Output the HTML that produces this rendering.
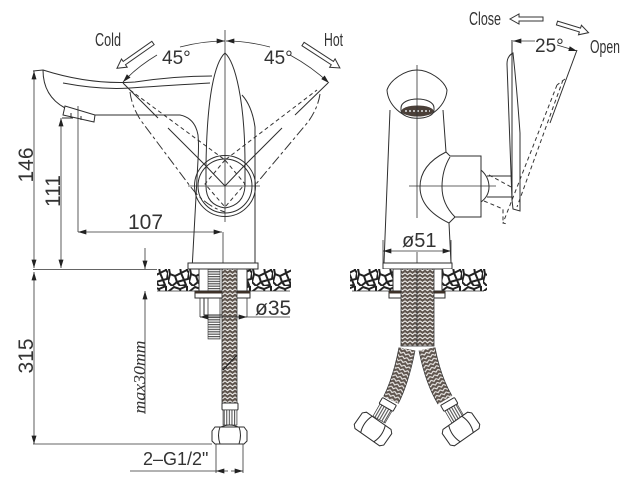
<!DOCTYPE html>
<html><head><meta charset="utf-8"><style>
html,body{margin:0;padding:0;background:#fff;width:635px;height:486px;overflow:hidden}
svg{display:block}
text{font-family:"Liberation Sans",sans-serif;fill:#333}
.l{fill:none;stroke:#2e2e2e;stroke-width:1}
.t{fill:none;stroke:#333;stroke-width:.8}
.d{fill:none;stroke:#333;stroke-width:1;stroke-dasharray:4 3}
.ld{fill:none;stroke:#333;stroke-width:1;stroke-dasharray:10 3 3 3}
.w{fill:#fff;stroke:#2e2e2e;stroke-width:1}
.a{fill:#fff;stroke:#333;stroke-width:1}
</style></head><body>
<svg width="635" height="486" viewBox="0 0 635 486" xmlns="http://www.w3.org/2000/svg">
<defs>
<marker id="m" viewBox="0 0 10 6" refX="10" refY="3" markerWidth="9" markerHeight="5" markerUnits="userSpaceOnUse" orient="auto-start-reverse"><path d="M0 0L10 3L0 6Z" fill="#222"/></marker>
<pattern id="braid" width="5" height="4" patternUnits="userSpaceOnUse"><rect width="5" height="4" fill="#5f554e"/><path d="M0 .8L2.500 2.800L5 .8" fill="none" stroke="#f2f0ee" stroke-width="1.100"/></pattern>
<pattern id="braidL" width="5" height="4" patternUnits="userSpaceOnUse" patternTransform="rotate(20)"><rect width="5" height="4" fill="#5f554e"/><path d="M0 .8L2.500 2.800L5 .8" fill="none" stroke="#f2f0ee" stroke-width="1.100"/></pattern>
<pattern id="braidR" width="5" height="4" patternUnits="userSpaceOnUse" patternTransform="rotate(-20)"><rect width="5" height="4" fill="#5f554e"/><path d="M0 .8L2.500 2.800L5 .8" fill="none" stroke="#f2f0ee" stroke-width="1.100"/></pattern>
<pattern id="stone" width="21" height="22" patternUnits="userSpaceOnUse"><rect width="21" height="22" fill="#fff"/><path d="M1 5L6 1L12 3L13 9L7 12L2 10ZM13 9L19 6L21 9L20 15L16 16ZM2 10L7 12L9 18L4 22L0 18ZM9 18L16 16L18 21L12 22Z" fill="#fff" stroke="#222" stroke-width="2"/><path d="M12 3L19 0M19 6L19 0" stroke="#222" stroke-width="2"/></pattern>
<pattern id="hh" width="3" height="2.4" patternUnits="userSpaceOnUse"><rect width="3" height="2.4" fill="#fff"/><rect width="3" height="1.200" fill="#555"/></pattern>
<pattern id="vv" width="2.6" height="3" patternUnits="userSpaceOnUse"><rect width="2.6" height="3" fill="#fff"/><rect width="1.100" height="3" fill="#555"/></pattern>
</defs>

<!-- labels top -->
<text x="95" y="46" font-size="18" textLength="26" lengthAdjust="spacingAndGlyphs">Cold</text>
<text x="324" y="46" font-size="18" textLength="19" lengthAdjust="spacingAndGlyphs">Hot</text>
<text x="469" y="25" font-size="18" textLength="32" lengthAdjust="spacingAndGlyphs">Close</text>
<text x="590" y="53" font-size="18" textLength="30" lengthAdjust="spacingAndGlyphs">Open</text>
<polygon class="a" transform="translate(153,43) rotate(145)" points="0,-2 35,-2 35,-5 44,0 35,5 35,2 0,2"/>
<polygon class="a" transform="translate(303,44) rotate(33)" points="0,-2 35,-2 35,-5 44,0 35,5 35,2 0,2"/>
<polygon class="a" transform="translate(543,19) rotate(180)" points="0,-2 24,-2 24,-5 33,0 24,5 24,2 0,2"/>
<polygon class="a" transform="translate(557,23) rotate(17)" points="0,-2 24,-2 24,-5 33,0 24,5 24,2 0,2"/>

<!-- 45 arcs -->
<path class="t" d="M180 47Q203 41 225 41" marker-end="url(#m)"/>
<path class="t" d="M270 47Q247 41 226 41" marker-end="url(#m)"/>
<path class="t" d="M157 55Q137 67 123 82" marker-end="url(#m)"/>
<path class="t" d="M290 55Q312 67 329 83" marker-end="url(#m)"/>
<text x="162" y="64" font-size="19">45°</text>
<text x="264" y="64" font-size="19">45°</text>

<!-- left faucet dashed -->
<path class="d" d="M130 90L225 160L317 90"/>
<path class="ld" d="M130 92Q132 108 142 122L190 186Q205 206 225 212"/>
<path class="ld" d="M320 94Q318 108 308 122L256 184"/>
<path class="d" d="M225 160L205 184L225 207L245 184Z"/>

<!-- left faucet body -->
<path class="l" d="M192 270L198 160Q199 145 198 135Q195 118 180 115L93 115"/>
<path class="l" d="M255 270L255 127Q252 106 242 95"/>
<path class="l" d="M33 71L43 70Q90 85 135 82Q175 76 212 76"/>
<path class="l" d="M63 83Q100 90 130 88Q175 85 210 83"/>
<path class="l" d="M43 70Q43 96 65 108"/>
<path class="w" d="M65 106L63 115L94 122L95 115Z"/>
<path class="l" d="M71 113L71 118M81 116L81 120M62 118L73 118"/>
<path class="l" d="M225 53C215 62 207 95 206 165L206 186Q206 205 225 208Q244 205 245 186L245 165C245 100 235 62 225 53Z"/>
<circle class="l" cx="225" cy="186" r="30.500"/>
<circle class="l" cx="225" cy="186" r="27"/>
<path class="l" d="M205 165L225 186L245 165M205 165L168 128M158 118L123 83M245 165L282 128M295 115L328 83"/>
<path class="t" d="M225 30L225 222M223 232L223 270M188 186L260 186"/>

<!-- dims left -->
<path class="t" d="M34 71L34 268" marker-start="url(#m)" marker-end="url(#m)"/>
<path class="t" d="M34 272L34 444" marker-start="url(#m)" marker-end="url(#m)"/>
<path class="t" d="M61 118L61 268" marker-start="url(#m)" marker-end="url(#m)"/>
<path class="t" d="M78 106L78 232"/>
<path class="t" d="M78 232L222 232" marker-start="url(#m)" marker-end="url(#m)"/>
<path class="t" d="M33 269.500L157 269.500M33 444L212 444"/>
<text transform="translate(33,165) rotate(-90)" font-size="21" text-anchor="middle">146</text>
<text transform="translate(33,356) rotate(-90)" font-size="21" text-anchor="middle">315</text>
<text transform="translate(60,191) rotate(-90)" font-size="21" text-anchor="middle">111</text>
<text x="128" y="229" font-size="21">107</text>
<path class="t" d="M145 248L145 269" marker-end="url(#m)"/>
<path class="t" d="M145 312L145 291" marker-end="url(#m)"/>
<path class="t" d="M145 312L145 414"/>
<text transform="translate(145,377) rotate(-90)" font-size="17" font-style="italic" text-anchor="middle" style="font-family:'Liberation Serif',serif" textLength="73" lengthAdjust="spacingAndGlyphs">max30mm</text>

<!-- left base -->
<rect x="157" y="269" width="43" height="22" fill="url(#stone)"/>
<rect x="247" y="269" width="44" height="22" fill="url(#stone)"/>
<path class="t" d="M157 291L199 291M247 291L290 291"/>
<rect class="w" x="188" y="263" width="70" height="6"/>
<rect x="199" y="269" width="48" height="22" fill="#fff" stroke="#333"/>
<rect x="208" y="269" width="12" height="22" fill="url(#hh)" stroke="#333" stroke-width=".6"/>
<rect x="195" y="291" width="55" height="7" class="w"/>
<rect x="195" y="291" width="55" height="2.500" fill="#3d3128"/>
<rect class="w" x="204" y="298" width="18" height="17"/>
<path class="t" d="M208 298L208 315M220 298L220 315"/>
<rect x="208" y="315" width="12" height="24" fill="url(#hh)" stroke="#333" stroke-width=".6"/>
<rect x="222" y="269" width="15" height="134" fill="url(#braid)" stroke="#333" stroke-width=".8"/>
<path d="M223 370L237 355" stroke="#222" stroke-width="1.200"/>
<rect class="w" x="222" y="403" width="16" height="7" rx="1"/>
<rect x="223" y="410" width="14" height="15" fill="url(#vv)" stroke="#333" stroke-width=".6"/>
<path class="w" d="M215 427L244 427L247 431L247 441L244 444L215 444L212 441L212 431Z"/>
<path class="l" d="M220 427Q217 435 220 444M239 427Q242 435 239 444M221 427Q230 423 238 427"/>
<path class="t" d="M216 444L216 473M243 444L243 473"/>
<path class="t" d="M130 471L216 471"/>
<path class="t" d="M216 471L228 471" marker-start="url(#m)"/>
<path class="t" d="M243 471L231 471" marker-start="url(#m)"/>
<text x="143" y="465" font-size="18">2–G1/2"</text>
<path class="t" d="M200 298L200 317M247 298L247 317"/>
<path class="t" d="M200 317L290 317"/>
<path class="t" d="M200 317L222 317" marker-start="url(#m)"/>
<path class="t" d="M247 317L235 317" marker-start="url(#m)"/>
<text x="255" y="315" font-size="21">ø35</text>

<!-- right faucet -->
<path class="l" d="M390 110L384 263M443 110L446 152M449 223L451 263"/>
<path class="w" d="M417 70C405 70 390 80 387 90C388 105 402 118 417 118C432 118 446 105 447 90C444 80 429 70 417 70Z"/>
<path class="w" d="M401 108C401 96 434 96 434 108L434 110C434 121 401 121 401 110Z"/>
<ellipse cx="417.500" cy="111" rx="16" ry="5.500" fill="#4a3f38"/>
<path d="M405 111L430 111" stroke="#bbb" stroke-width="2" stroke-dasharray="2 2"/>
<path class="l" d="M446 152Q420 165 420 187Q420 209 449 223"/>
<path class="l" d="M450 157Q442 170 442 187Q442 204 455 217"/>
<path class="l" d="M446 152L450 156L481 156L481 217L455 217L449 223"/>
<path class="l" d="M481 170Q489 177 489 187Q489 196 481 202"/>
<path class="l" d="M487 176L512 176M487 197L512 197"/>
<path class="t" d="M417 65L417 218M417 252L417 269M409 186L496 186"/>
<path class="l" d="M512 40L512 200"/>
<path class="l" d="M513 53Q507 56 507 64L512 200L513 209L520 211L520 133Q517 90 513 53Z"/>
<path class="l" d="M577 50L550 123"/>
<path class="d" d="M563 80L517 207M557 85L503 223L507 224M565 79L557 85"/>
<path class="d" d="M489 175L513 188M484 201L503 209L503 223"/>
<path class="t" d="M535 41L513 41" marker-end="url(#m)"/>
<path class="t" d="M557 45L577 51" marker-end="url(#m)"/>
<text x="535" y="52" font-size="19">25°</text>

<!-- right base -->
<text x="402" y="247" font-size="20">ø51</text>
<path class="t" d="M383 240L383 266M451 240L451 266"/>
<path class="t" d="M383 251L451 251" marker-start="url(#m)" marker-end="url(#m)"/>
<rect class="w" x="383" y="263" width="69" height="6"/>
<rect x="350" y="269" width="43" height="22" fill="url(#stone)"/>
<rect x="442" y="269" width="45" height="22" fill="url(#stone)"/>
<path class="t" d="M352 291L393 291M442 291L484 291"/>
<rect x="393" y="269" width="49" height="22" fill="#fff" stroke="#333"/>
<rect class="w" x="389" y="291" width="56" height="7"/>
<rect x="389" y="291" width="56" height="2.500" fill="#3d3128"/>
<rect x="401" y="269" width="16" height="77" fill="url(#braid)" stroke="#333" stroke-width=".8"/>
<rect x="417" y="269" width="17" height="77" fill="url(#braid)" stroke="#333" stroke-width=".8"/>
<path d="M407 349Q401 380 391 400" fill="none" stroke="#333" stroke-width="17"/>
<path d="M407 349Q401 380 391 400" fill="none" stroke="url(#braidL)" stroke-width="15.500"/>
<path d="M427 349Q433 380 445 400" fill="none" stroke="#333" stroke-width="17"/>
<path d="M427 349Q433 380 445 400" fill="none" stroke="url(#braidR)" stroke-width="15.500"/>
<g transform="translate(388,404) rotate(30)">
<rect x="-7" y="4" width="14" height="14" fill="url(#vv)" stroke="#333" stroke-width=".6"/>
<rect class="w" x="-8" y="-3" width="16" height="7" rx="1"/>
</g>
<g transform="translate(373,429) rotate(35)">
<path class="w" d="M-15 -10L15 -10L18 -7L18 7L15 10L-15 10L-18 7L-18 -7Z"/>
<path class="l" d="M-8 -10Q-12 0 -8 10M8 -10Q12 0 8 10"/>
</g>
<g transform="translate(449,404) rotate(-30)">
<rect x="-7" y="4" width="14" height="14" fill="url(#vv)" stroke="#333" stroke-width=".6"/>
<rect class="w" x="-8" y="-3" width="16" height="7" rx="1"/>
</g>
<g transform="translate(461,429) rotate(-35)">
<path class="w" d="M-15 -10L15 -10L18 -7L18 7L15 10L-15 10L-18 7L-18 -7Z"/>
<path class="l" d="M-8 -10Q-12 0 -8 10M8 -10Q12 0 8 10"/>
</g>
</svg>
</body></html>
